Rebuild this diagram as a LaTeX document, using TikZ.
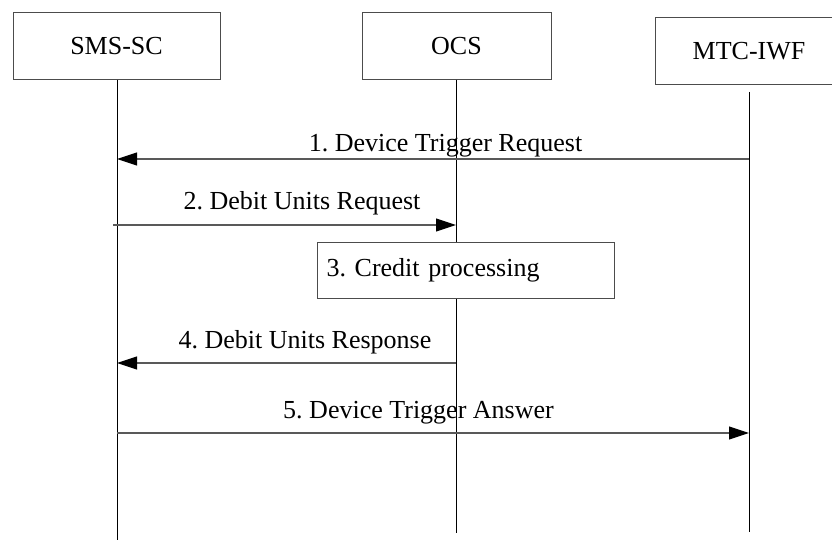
\documentclass[tikz,border=0pt]{standalone}
\usepackage{fontspec}
\setmainfont{Liberation Serif}
\usetikzlibrary{arrows.meta}
\frenchspacing
\begin{document}
\begin{tikzpicture}[x=1pt,y=-1pt,
  entity/.style={draw=black!70,line width=1pt,fill=white,minimum height=67pt,inner sep=0pt,font=\fontsize{26}{30}\selectfont},
  life/.style={draw=black,line width=1pt},
  msg/.style={draw=black!65,line width=1.1pt,-{Triangle[length=20pt,width=13pt,fill=black,color=black]}},
  lbl/.style={anchor=base,inner sep=0pt,font=\fontsize{26}{30}\selectfont},
  procbox/.style={draw=black!70,line width=1pt,fill=white,minimum width=297pt,minimum height=56pt,inner xsep=9pt,inner ysep=0pt,text width=279pt,align=left,anchor=north west,font=\fontsize{26}{30}\selectfont}]
\useasboundingbox (0,0) rectangle (832,540);
\clip (0,0) rectangle (832,540);
\fill[white] (0,0) rectangle (832,540);
% entities
\node[entity,minimum width=207pt] (sms) at (116.5,46.5) {SMS-SC};
\node[entity,minimum width=189pt] (ocs) at (456.5,46.5) {OCS};
\node[entity,minimum width=188pt] (mtc) at (749,51.5) {MTC-IWF};
% lifeline ends
\coordinate (smsEnd) at (117,540);
\coordinate (ocsEnd) at (456,533);
\coordinate (mtcTop) at (749,92);
\coordinate (mtcEnd) at (749,532);
\draw[life] (117,80) -- (smsEnd);
\draw[life] (456,80) -- (ocsEnd);
\draw[life] (mtcTop) -- (mtcEnd);
% message points
\coordinate (m1a) at (749,159); \coordinate (m1b) at (117,159);
\coordinate (m2a) at (113,225); \coordinate (m2b) at (456,225);
\coordinate (m4a) at (456,363); \coordinate (m4b) at (117,363);
\coordinate (m5a) at (117,433); \coordinate (m5b) at (749,433);
\draw[msg] (m1a) -- (m1b);
\draw[msg] (m2a) -- (m2b);
\draw[msg] (m4a) -- (m4b);
\draw[msg] (m5a) -- (m5b);
% labels
\node[lbl] (l1) at (445.5,152) {1. Device Trigger Request};
\node[lbl] (l2) at (302,210) {2. Debit Units Request};
\node[lbl] (l4) at (305,348) {4. Debit Units Response};
\node[lbl] (l5) at (418.5,418) {5. Device Trigger Answer};
% processing box
\node[procbox] (proc) at (317,242) {3. Credit processing};
\end{tikzpicture}
\end{document}
